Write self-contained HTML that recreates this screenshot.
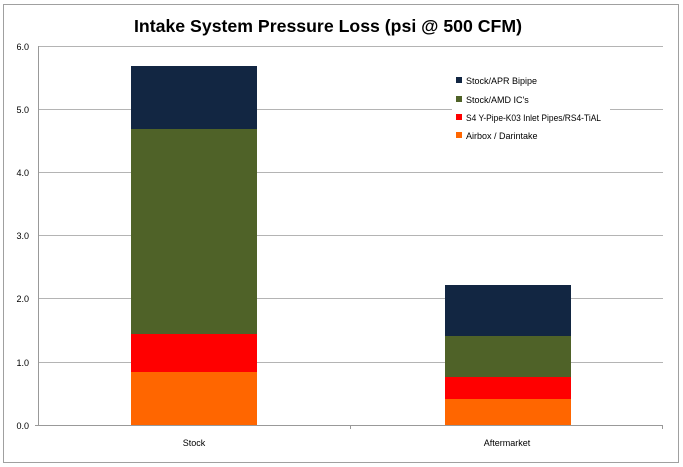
<!DOCTYPE html>
<html><head><style>body{margin:0;background:#fff}svg{display:block}</style></head><body>
<svg width="683" height="467" xmlns="http://www.w3.org/2000/svg" font-family="Liberation Sans, sans-serif">
<rect x="3.5" y="4.5" width="675" height="458" fill="#fff" stroke="#a0a0a0"/>
<text x="134" y="32" textLength="388" lengthAdjust="spacingAndGlyphs" font-size="17.5" font-weight="bold" fill="#000">Intake System Pressure Loss (psi @ 500 CFM)</text>
<g stroke="#b4b4b4" stroke-width="1">
<line x1="38" y1="46.5" x2="663" y2="46.5"/>
<line x1="38" y1="109.5" x2="663" y2="109.5"/>
<line x1="38" y1="172.5" x2="663" y2="172.5"/>
<line x1="38" y1="235.5" x2="663" y2="235.5"/>
<line x1="38" y1="298.5" x2="663" y2="298.5"/>
<line x1="38" y1="362.5" x2="663" y2="362.5"/>
</g>
<g stroke="#999"><line x1="38.5" y1="46" x2="38.5" y2="425"/><line x1="35" y1="425.5" x2="663" y2="425.5"/>
<line x1="350.5" y1="425" x2="350.5" y2="429"/><line x1="662.5" y1="425" x2="662.5" y2="429"/></g>
<g font-size="9" fill="#000" text-anchor="end">
<text x="29" y="50">6.0</text><text x="29" y="113">5.0</text><text x="29" y="176">4.0</text>
<text x="29" y="239">3.0</text><text x="29" y="302">2.0</text><text x="29" y="366">1.0</text><text x="29" y="429">0.0</text>
</g>
<g font-size="9" text-anchor="middle"><text x="194" y="446">Stock</text><text x="507" y="446">Aftermarket</text></g>
<g>
<rect x="131" y="372" width="126" height="53" fill="#ff6600"/>
<rect x="131" y="334" width="126" height="38" fill="#ff0000"/>
<rect x="131" y="129" width="126" height="205" fill="#4f6228"/>
<rect x="131" y="66" width="126" height="63" fill="#122642"/>
<rect x="445" y="399" width="126" height="26" fill="#ff6600"/>
<rect x="445" y="377" width="126" height="22" fill="#ff0000"/>
<rect x="445" y="336" width="126" height="41" fill="#4f6228"/>
<rect x="445" y="285" width="126" height="51" fill="#122642"/>
</g>
<rect x="452" y="70" width="158" height="78" fill="#fff"/>
<g font-size="9">
<rect x="456" y="77" width="6" height="6" fill="#122642"/><text x="466" y="84">Stock/APR Bipipe</text>
<rect x="456" y="96" width="6" height="6" fill="#4f6228"/><text x="466" y="103">Stock/AMD IC's</text>
<rect x="456" y="114" width="6" height="6" fill="#ff0000"/><text x="466" y="121" textLength="135" lengthAdjust="spacingAndGlyphs">S4 Y-Pipe-K03 Inlet Pipes/RS4-TiAL</text>
<rect x="456" y="132" width="6" height="6" fill="#ff6600"/><text x="466" y="139">Airbox / Darintake</text>
</g>
</svg>
</body></html>
